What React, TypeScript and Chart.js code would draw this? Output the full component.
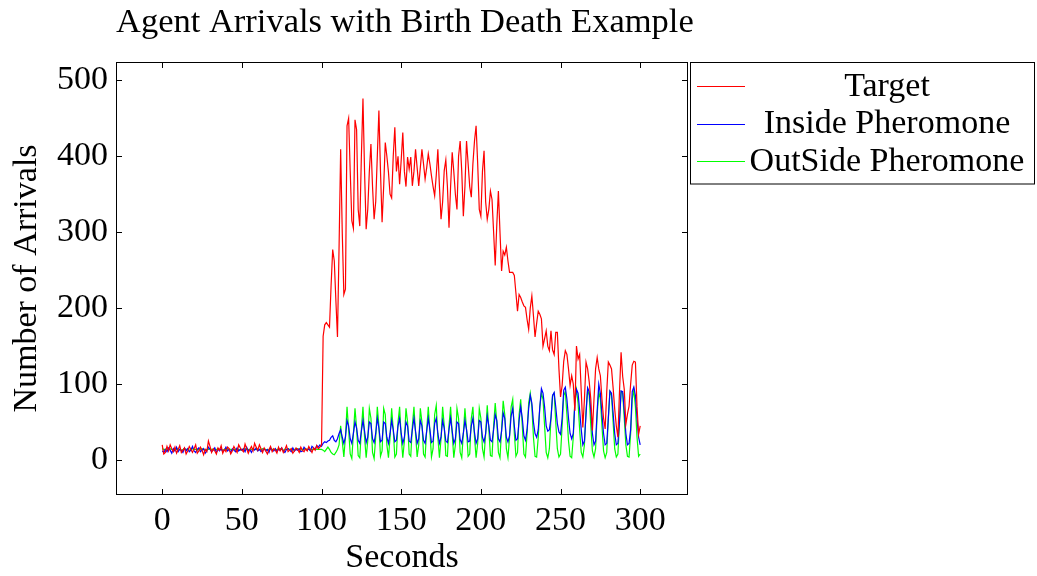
import React, { useEffect, useRef } from "react";
import { Chart, registerables } from "chart.js";

Chart.register(...registerables);

const chartTitle = "Agent Arrivals with Birth Death Example";
const xAxisTitle = "Seconds";
const yAxisTitle = "Number of Arrivals";
const seriesNames = ["Target", "Inside Pheromone", "OutSide Pheromone"];
const seriesColors = ["#ff0000", "#0000ff", "#00ff00"];
const xTicks = [0, 50, 100, 150, 200, 250, 300];
const yTicks = [0, 100, 200, 300, 400, 500];

const seconds = Array.from({ length: 301 }, (_, i) => i);

const target = [
  20, 8, 10, 18, 12, 20, 15, 11, 17, 9, 14, 19, 10, 13, 16, 8, 12, 18, 14, 10,
  15, 20, 9, 12, 17, 13, 7, 14, 11, 25, 18, 10, 15, 12, 8, 16, 13, 19, 9, 14,
  11, 17, 15, 8, 12, 18, 14, 10, 20, 16, 13, 11, 21, 15, 9, 14, 18, 12, 22, 17,
  13, 20, 15, 10, 16, 12, 8, 14, 18, 11, 15, 13, 9, 17, 12, 16, 10, 14, 19, 11,
  13, 15, 9, 12, 16, 14, 10, 17, 13, 11, 15, 12, 18, 14, 10, 16, 13, 19, 15, 17,
  20, 163, 178, 181, 178, 175, 230, 277, 262, 210,
  162, 280, 409, 300, 218, 225, 440, 450, 380, 315,
  305, 448, 435, 330, 308, 400, 476, 380, 304, 330,
  380, 416, 360, 317, 340, 400, 460, 380, 313, 360,
  418, 400, 379, 350, 345, 400, 438, 380, 400, 363,
  395, 431, 380, 360, 399, 383, 399, 361, 380, 409,
  385, 361, 385, 409, 390, 370, 385, 403, 390, 374,
  360, 348, 375, 409, 360, 317, 340, 381, 395, 360,
  306, 360, 405, 380, 350, 330, 400, 420, 380, 321,
  360, 420, 390, 360, 346, 390, 420, 440, 390, 330,
  321, 380, 407, 340, 317, 330, 354, 343, 300, 256,
  310, 354, 300, 249, 275, 270, 280, 262, 247, 247,
  247, 243, 220, 196, 218, 214, 208, 203, 201, 185,
  172, 200, 216, 190, 162, 180, 196, 192, 186, 150,
  160, 170, 150, 144, 170, 145, 139, 168, 168, 120,
  83, 98, 130, 144, 139, 120, 98, 111, 100, 65,
  150, 133, 139, 90, 43, 80, 129, 120, 103, 80,
  39, 80, 120, 135, 120, 111, 80, 55, 41, 90,
  129, 125, 120, 95, 67, 45, 30, 90, 142, 110,
  93, 47, 60, 71, 100, 125, 130, 129, 70, 34,
  45,
];

const inside = [
  12, 10, 14, 11, 16, 13, 9, 15, 12, 17, 11, 14, 13, 10, 16, 12, 15, 11, 13, 18,
  12, 10, 14, 16, 11, 13, 15, 9, 12, 17, 14, 11, 13, 16, 10, 14, 12, 15, 11, 13,
  17, 12, 14, 10, 15, 13, 11, 16, 12, 14, 13, 15, 11, 17, 12, 14, 10, 15, 13, 16,
  12, 14, 11, 13, 15, 12, 14, 10, 16, 13, 12, 15, 11, 14, 13, 16, 12, 10, 14, 15,
  13, 11, 16, 12, 14, 13, 15, 11, 12, 17, 14, 13, 15, 12, 18, 16, 14, 19, 17, 20,
  18, 22, 24, 23, 25, 26, 30, 32, 26, 24,
  28, 35, 40, 30, 22, 30, 52, 45, 28, 22,
  35, 50, 42, 26, 22, 38, 52, 38, 23, 30,
  50, 48, 28, 23, 35, 55, 42, 24, 26, 50,
  48, 30, 22, 35, 52, 40, 24, 26, 45, 55,
  35, 22, 30, 50, 45, 25, 23, 40, 55, 38,
  22, 28, 52, 45, 26, 22, 38, 55, 40, 23,
  25, 48, 55, 35, 22, 30, 52, 42, 25, 23,
  40, 55, 38, 22, 28, 50, 48, 27, 22, 35,
  52, 40, 24, 25, 45, 55, 36, 22, 28, 52,
  50, 30, 24, 35, 58, 45, 26, 24, 40, 60,
  52, 28, 24, 38, 62, 55, 30, 24, 32, 58,
  68, 45, 26, 28, 52, 70, 55, 32, 26, 40,
  68, 85, 75, 50, 35, 30, 40, 70, 94, 88,
  70, 45, 38, 40, 55, 85, 89, 70, 48, 37,
  34, 55, 92, 96, 80, 55, 35, 28, 35, 75,
  93, 88, 65, 40, 20, 25, 60, 95, 90, 65,
  35, 20, 25, 65, 100, 88, 60, 35, 20, 22,
  55, 91, 88, 62, 35, 20, 22, 50, 91, 90,
  65, 35, 20, 22, 40, 90, 96, 85, 55, 30,
  20,
];

const outside = [
  15, 14, 14, 13, 14, 15, 14, 13, 14, 14, 15, 14, 13, 14, 15, 14, 14, 13, 14, 15,
  14, 14, 13, 14, 14, 15, 14, 13, 14, 14, 15, 14, 14, 13, 14, 15, 14, 14, 13, 14,
  14, 15, 14, 14, 13, 14, 14, 15, 14, 13, 14, 14, 15, 14, 14, 13, 14, 15, 14, 14,
  13, 14, 14, 15, 14, 14, 13, 14, 15, 14, 14, 13, 14, 14, 15, 14, 13, 14, 14, 15,
  14, 14, 13, 14, 14, 15, 14, 13, 14, 14, 15, 14, 14, 13, 14, 14, 15, 14, 14, 14,
  14, 13, 11, 14, 17, 14, 10, 8, 7, 10,
  14, 20, 45, 25, 4, 30, 70, 40, 8, 2,
  35, 68, 42, 6, 3, 40, 70, 30, 3, 25,
  68, 55, 10, 2, 30, 70, 45, 5, 12, 68,
  60, 20, 3, 30, 68, 40, 4, 8, 50, 70,
  30, 3, 25, 68, 50, 8, 5, 45, 70, 35,
  4, 20, 68, 50, 8, 4, 40, 70, 38, 4,
  15, 60, 72, 30, 3, 28, 70, 45, 6, 5,
  45, 70, 35, 3, 20, 68, 55, 10, 3, 35,
  68, 40, 5, 8, 55, 70, 30, 3, 22, 68,
  55, 15, 4, 35, 72, 40, 6, 5, 45, 75,
  50, 10, 3, 40, 78, 60, 15, 3, 30, 70,
  80, 35, 5, 10, 60, 80, 45, 8, 4, 35,
  75, 88, 70, 30, 5, 4, 30, 70, 88, 80,
  45, 10, 3, 15, 55, 85, 88, 50, 15, 4,
  8, 45, 85, 90, 60, 25, 5, 3, 30, 80,
  93, 75, 40, 10, 4, 20, 65, 93, 85, 45,
  12, 4, 15, 60, 90, 80, 45, 12, 3, 10,
  55, 90, 85, 50, 15, 4, 8, 50, 90, 88,
  55, 20, 5, 4, 35, 80, 92, 70, 30, 5,
  8,
];

const FONT = "'Liberation Serif', 'Times New Roman', serif";

const framePlugin = {
  id: "frame",
  afterDatasetsDraw(chart: any) {
    const { ctx, chartArea: a, scales } = chart;
    const tl = 6;
    ctx.save();
    ctx.strokeStyle = "#000";
    ctx.lineWidth = 1;
    ctx.beginPath();
    xTicks.forEach((v) => {
      const x = Math.round(scales.x.getPixelForValue(v)) + 0.5;
      ctx.moveTo(x, a.bottom);
      ctx.lineTo(x, a.bottom - tl);
      ctx.moveTo(x, a.top);
      ctx.lineTo(x, a.top + tl);
    });
    yTicks.forEach((v) => {
      const y = Math.round(scales.y.getPixelForValue(v)) + 0.5;
      ctx.moveTo(a.left, y);
      ctx.lineTo(a.left + tl, y);
      ctx.moveTo(a.right, y);
      ctx.lineTo(a.right - tl, y);
    });
    ctx.stroke();
    ctx.strokeRect(a.left + 0.5, a.top + 0.5, a.right - a.left - 1, a.bottom - a.top - 1);
    ctx.restore();
  },
  afterDraw(chart: any) {
    const { ctx, chartArea: a } = chart;
    ctx.save();
    ctx.fillStyle = "#000";
    ctx.font = `34.5px ${FONT}`;
    ctx.textAlign = "left";
    ctx.textBaseline = "alphabetic";
    ctx.fillText(chartTitle, a.left, 32);

    ctx.font = `34px ${FONT}`;
    ctx.textAlign = "center";
    ctx.fillText(xAxisTitle, (a.left + a.right) / 2, 567);

    ctx.save();
    ctx.translate(36, (a.top + a.bottom) / 2);
    ctx.rotate(-Math.PI / 2);
    ctx.textBaseline = "alphabetic";
    ctx.fillText(yAxisTitle, 0, 0);
    ctx.restore();

    // legend
    const lx = a.right + 2;
    const ly = a.top;
    const lw = 1035 - lx;
    const rowH = 37.5;
    const lh = rowH * 3 + 10;
    ctx.fillStyle = "#fff";
    ctx.fillRect(lx, ly, lw, lh);
    ctx.strokeStyle = "#000";
    ctx.lineWidth = 1;
    ctx.strokeRect(lx + 0.5, ly + 0.5, lw - 1, lh - 1);
    seriesNames.forEach((name, i) => {
      const cy = ly + 24 + i * rowH;
      ctx.strokeStyle = seriesColors[i];
      ctx.beginPath();
      ctx.moveTo(lx + 7, Math.round(cy) + 0.5);
      ctx.lineTo(lx + 55, Math.round(cy) + 0.5);
      ctx.stroke();
      ctx.fillStyle = "#000";
      ctx.textAlign = "center";
      ctx.textBaseline = "middle";
      ctx.fillText(name, lx + 197, cy + 1);
    });
    ctx.restore();
  },
};

export default function App() {
  const ref = useRef<HTMLCanvasElement | null>(null);
  useEffect(() => {
    if (!ref.current) return;
    const mk = (vals: number[]) => seconds.map((s, i) => ({ x: s, y: vals[i] }));
    const chart = new Chart(ref.current, {
      type: "line",
      data: {
        datasets: [target, inside, outside].map((vals, i) => ({
          label: seriesNames[i],
          data: mk(vals),
          borderColor: seriesColors[i],
          backgroundColor: seriesColors[i],
          borderWidth: 1.2,
          pointRadius: 0,
          tension: 0,
          fill: false,
        })),
      },
      options: {
        responsive: false,
        animation: false,
        layout: { padding: { left: 0, top: 62, right: 349, bottom: 0 } },
        plugins: {
          legend: { display: false },
          title: { display: false },
          tooltip: { enabled: false },
        },
        scales: {
          x: {
            type: "linear",
            min: -29,
            max: 330,
            afterBuildTicks: (scale: any) => {
              scale.ticks = xTicks.map((v) => ({ value: v }));
            },
            afterFit: (scale: any) => {
              scale.height = 81;
            },
            grid: { display: false, drawTicks: false },
            border: { display: false },
            ticks: {
              font: { family: FONT, size: 34 },
              color: "#000",
              padding: 6,
              maxRotation: 0,
            },
          },
          y: {
            type: "linear",
            min: -46,
            max: 524,
            afterBuildTicks: (scale: any) => {
              scale.ticks = yTicks.map((v) => ({ value: v }));
            },
            afterFit: (scale: any) => {
              scale.width = 116;
            },
            grid: { display: false, drawTicks: false },
            border: { display: false },
            ticks: {
              font: { family: FONT, size: 34 },
              color: "#000",
              padding: 8,
            },
          },
        },
      },
      plugins: [framePlugin],
    });
    return () => chart.destroy();
  }, []);
  return (
    <div style={{ position: "absolute", left: 0, top: 0, width: 1037, height: 576 }}>
      <canvas ref={ref} width={1037} height={576} style={{ width: 1037, height: 576 }} />
    </div>
  );
}
